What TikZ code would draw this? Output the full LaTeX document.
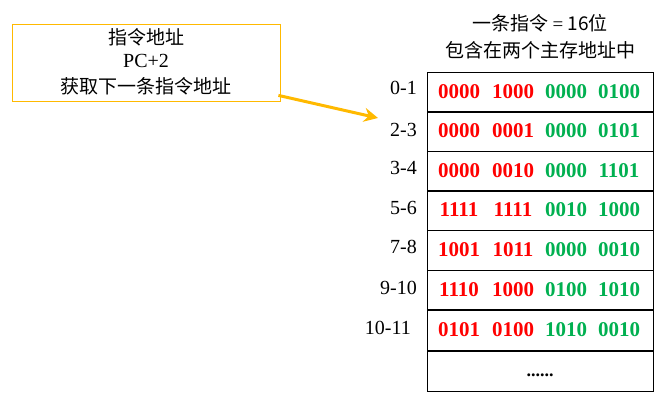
\documentclass[tikz,border=0pt]{standalone}
\usepackage{fontspec}
\setmainfont{Liberation Serif}
\newfontfamily\cjk{Noto Sans CJK SC}
\usetikzlibrary{arrows.meta}
\definecolor{myred}{RGB}{255,0,0}
\definecolor{mygreen}{RGB}{0,176,80}
\definecolor{myorange}{RGB}{255,185,0}
\begin{document}
\begin{tikzpicture}[x=1pt,y=-1pt,
  bits/.style={font=\fontsize{21}{23}\selectfont\bfseries, inner sep=0pt},
  rb/.style={bits,text=myred}, gb/.style={bits,text=mygreen},
  lab/.style={font=\fontsize{20}{22}\selectfont, anchor=east, inner sep=0pt},
  cjkt/.style={font=\cjk\fontsize{19}{21}\selectfont, inner sep=0pt},
  cell/.style={draw, line width=0.8pt}]
\useasboundingbox (0,0) rectangle (668,405);
\node[draw=myorange, line width=0.8pt, minimum width=268pt, minimum height=77pt, inner sep=0pt] (box) at (146,62.5) {};
\node[cjkt] (t1) at (146,37) {指令地址};
\node[font=\fontsize{20}{22}\selectfont, inner sep=0pt] (t2) at (146,61) {PC+2};
\node[cjkt] (t3) at (146,86) {获取下一条指令地址};
\node[cjkt] (h1) at (540,23) {一条指令 {\rmfamily =} 16位};
\node[cjkt] (h2) at (540,50) {包含在两个主存地址中};
\foreach \i/\yy in {0/72,1/111,2/151,3/190,4/230,5/270,6/310,7/351}{
  \node[cell, minimum width=226pt, minimum height=40pt, inner sep=0pt] (r\i) at (540,\yy+20) {};
}
\draw[line width=2pt] (427,310) -- (653,310);
\foreach \i/\lb/\a/\b/\c/\d in {0/0-1/0000/1000/0000/0100,1/2-3/0000/0001/0000/0101,2/3-4/0000/0010/0000/1101,3/5-6/1111/1111/0010/1000,4/7-8/1001/1011/0000/0010,5/9-10/1110/1000/0100/1010,6/10-11/0101/0100/1010/0010}{
  \node[rb] (a\i) at ([xshift=-81pt]r\i.center) {\a};
  \node[rb] (b\i) at ([xshift=-27pt]r\i.center) {\b};
  \node[gb] (c\i) at ([xshift=26pt]r\i.center) {\c};
  \node[gb] (d\i) at ([xshift=79pt]r\i.center) {\d};
}
\node[lab] (l0) at (417,88) {0-1};
\node[lab] (l1) at (417,130) {2-3};
\node[lab] (l2) at (417,168) {3-4};
\node[lab] (l3) at (417,208) {5-6};
\node[lab] (l4) at (417,247) {7-8};
\node[lab] (l5) at (417,288) {9-10};
\node[lab] (l6) at (411,328) {10-11};
\node[font=\fontsize{18}{20}\selectfont\bfseries] (dots) at ([yshift=-4pt]r7.center) {......};
\coordinate (ae) at (378,118);
\draw[myorange, line width=3pt, -{Stealth[length=14pt,width=14pt]}] (box.south east) ++(-2,-6) -- (ae);
\end{tikzpicture}
\end{document}
